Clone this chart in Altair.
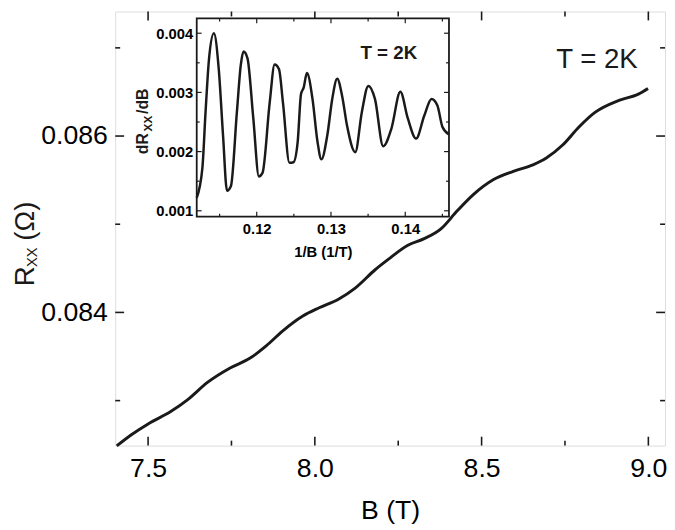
import altair as alt
import pandas as pd

# ---------------- data ----------------
# main curve: Rxx vs B
B_T = [7.406, 7.451, 7.500, 7.569, 7.618, 7.678, 7.746, 7.806, 7.855, 7.904,
       7.964, 8.013, 8.072, 8.121, 8.180, 8.220, 8.279, 8.328, 8.378, 8.427,
       8.476, 8.536, 8.595, 8.654, 8.693, 8.743, 8.792, 8.841, 8.910, 8.970, 8.999]
R_xx = [0.082487, 0.082616, 0.082736, 0.082878, 0.083008, 0.083206, 0.083370, 0.083482, 0.083623, 0.083791,
        0.083959, 0.084053, 0.084153, 0.084276, 0.084481, 0.084601, 0.084761, 0.084836, 0.084947, 0.085152,
        0.085339, 0.085507, 0.085600, 0.085674, 0.085748, 0.085898, 0.086103, 0.086271, 0.086402, 0.086475, 0.086539]

# inset: dRxx/dB vs 1/B
inv_B = [0.11192, 0.11268, 0.11311, 0.11357, 0.11423, 0.11489, 0.11546, 0.11600, 0.11653, 0.11733,
         0.11786, 0.11822, 0.11875, 0.11954, 0.12029, 0.12078, 0.12175, 0.12241, 0.12300, 0.12353,
         0.12441, 0.12494, 0.12552, 0.12596, 0.12632, 0.12676, 0.12751, 0.12818, 0.12871, 0.12951,
         0.13017, 0.13084, 0.13150, 0.13216, 0.13327, 0.13416, 0.13503, 0.13592, 0.13703, 0.13814,
         0.13934, 0.14035, 0.14146, 0.14257, 0.14354, 0.14433, 0.14500, 0.14589]
dR_dB = [0.00122, 0.00172, 0.00267, 0.00356, 0.00400, 0.00339, 0.00228, 0.00134, 0.00142, 0.00267,
         0.00347, 0.00369, 0.00358, 0.00256, 0.00158, 0.00164, 0.00283, 0.00347, 0.00339, 0.00283,
         0.00181, 0.00182, 0.00217, 0.00297, 0.00308, 0.00333, 0.00289, 0.00217, 0.00187, 0.00228,
         0.00289, 0.00323, 0.00294, 0.00244, 0.00199, 0.00267, 0.00311, 0.00289, 0.00209, 0.00239,
         0.00301, 0.00256, 0.00222, 0.00261, 0.00289, 0.00278, 0.00242, 0.00229]

main_x_domain = [7.4015, 9.05]
main_y_domain = [0.08249, 0.087412]
main_x_major = [7.5, 8.0, 8.5, 9.0]
main_x_minor = [7.75, 8.25, 8.75]
main_y_major = [0.084, 0.086]
main_y_minor = [0.083, 0.085, 0.087]

inset_x_domain = [0.11192, 0.14589]
inset_y_domain = [0.0009, 0.00425]
inset_x_major = [0.12, 0.13, 0.14]
inset_x_minor = [0.115, 0.125, 0.135, 0.145]
inset_y_major = [0.001, 0.002, 0.003, 0.004]
inset_y_minor = [0.0015, 0.0025, 0.0035]

# ---------------- layout ----------------
PAD_L = 108.7
W = 557.3
H = 440
IX0, IX1 = 82.6, 338.3     # inset frame in plot pixels
IY0, IY1 = 7, 208
INK = "#1a1a1a"
FONT = "Liberation Sans"
OX = PAD_L + 8             # page x of the plot's left edge


def xs_main():
    return alt.Scale(domain=main_x_domain, nice=False, zero=False)


def ys_main():
    return alt.Scale(domain=main_y_domain, nice=False, zero=False)


def xs_in():
    return alt.Scale(domain=inset_x_domain, range=[IX0, IX1], nice=False, zero=False)


def ys_in():
    return alt.Scale(domain=inset_y_domain, range=[IY1, IY0], nice=False, zero=False)


def xticks(vals, scale, y_edge, y_end, width=1.6):
    return alt.Chart(pd.DataFrame({"v": vals})).mark_rule(color=INK, strokeWidth=width).encode(
        x=alt.X("v:Q", scale=scale, axis=None),
        y=alt.value(y_edge), y2=alt.value(y_end))


def yticks(vals, scale, x_edge, x_end, width=1.6):
    return alt.Chart(pd.DataFrame({"v": vals})).mark_rule(color=INK, strokeWidth=width).encode(
        y=alt.Y("v:Q", scale=scale, axis=None),
        x=alt.value(x_edge), x2=alt.value(x_end))


def label(text, x, y, size, bold=False, angle=0):
    return alt.Chart(pd.DataFrame({"t": [text]})).mark_text(
        text=text, fontSize=size, fontWeight="bold" if bold else "normal",
        angle=angle, align="center", baseline="alphabetic", color=INK, font=FONT
    ).encode(x=alt.value(x), y=alt.value(y))


main_df = pd.DataFrame({"B": B_T, "R": R_xx})
main_line = alt.Chart(main_df).mark_line(color=INK, strokeWidth=3, interpolate="monotone").encode(
    x=alt.X("B:Q", scale=xs_main(),
            axis=alt.Axis(orient="bottom", values=main_x_major, format=".1f", ticks=False,
                          domain=False, grid=False, labelFontSize=27, labelPadding=10,
                          title="B (T)", titleFontSize=27, titleFontWeight="normal",
                          titleBaseline="alphabetic", titleY=74)),
    y=alt.Y("R:Q", scale=ys_main(),
            axis=alt.Axis(orient="left", values=main_y_major, format=".3f", ticks=False,
                          domain=False, grid=False, labelFontSize=27, labelPadding=8, title=None)),
)

inset_df = pd.DataFrame({"invB": inv_B, "dRdB": dR_dB})
inset_frame = alt.Chart(pd.DataFrame({"t": [0]})).mark_rect(
    fill="white", stroke=INK, strokeWidth=1.8).encode(
    x=alt.value(IX0), x2=alt.value(IX1), y=alt.value(IY0), y2=alt.value(IY1))

inset_line = alt.Chart(inset_df).mark_line(color=INK, strokeWidth=2.5, interpolate="monotone").encode(
    x=alt.X("invB:Q", scale=xs_in(),
            axis=alt.Axis(orient="bottom", offset=-(H - IY1), values=inset_x_major, format=".2f",
                          ticks=False, domain=False, grid=False,
                          labelFontSize=15, labelFontWeight="bold", labelPadding=5,
                          title="1/B (1/T)", titleFontSize=15, titleFontWeight="bold",
                          titleBaseline="alphabetic", titleY=40)),
    y=alt.Y("dRdB:Q", scale=ys_in(),
            axis=alt.Axis(orient="left", offset=-IX0, values=inset_y_major, format=".3f",
                          ticks=False, domain=False, grid=False,
                          labelFontSize=15, labelFontWeight="bold", labelPadding=4, title=None)),
)

MJ, MN = 9, 5
IJ, IN = 5, 3
layers = [
    main_line,
    xticks(main_x_major, xs_main(), H, H - MJ),
    xticks(main_x_minor, xs_main(), H, H - MN),
    xticks(main_x_major, xs_main(), 0, MJ),
    xticks(main_x_minor, xs_main(), 0, MN),
    yticks(main_y_major, ys_main(), 0, MJ),
    yticks(main_y_minor, ys_main(), 0, MN),
    yticks(main_y_major, ys_main(), W, W - MJ),
    yticks(main_y_minor, ys_main(), W, W - MN),
    label("R", 34 - OX, 268.5, 28, angle=270),
    label("XX", 37 - OX, 249, 15, angle=270),
    label("(\u03a9)", 34 - OX, 212.5, 28, angle=270),
    label("T = 2K", 605 - OX, 57, 28),
    inset_frame,
    inset_line,
    xticks(inset_x_major, xs_in(), IY1, IY1 - IJ, 1.2),
    xticks(inset_x_minor, xs_in(), IY1, IY1 - IN, 1.2),
    xticks(inset_x_major, xs_in(), IY0, IY0 + IJ, 1.2),
    xticks(inset_x_minor, xs_in(), IY0, IY0 + IN, 1.2),
    yticks(inset_y_major, ys_in(), IX0, IX0 + IJ, 1.2),
    yticks(inset_y_minor, ys_in(), IX0, IX0 + IN, 1.2),
    yticks(inset_y_major, ys_in(), IX1, IX1 - IJ, 1.2),
    yticks(inset_y_minor, ys_in(), IX1, IX1 - IN, 1.2),
    label("dR", 150 - OX, 134, 16, bold=True, angle=270),
    label("XX", 154 - OX, 113.5, 12, bold=True, angle=270),
    label("/dB", 150 - OX, 91, 16, bold=True, angle=270),
    label("T = 2K", 394 - OX, 48, 19, bold=True),
]

chart = alt.layer(*layers).resolve_scale(
    x="independent", y="independent"
).properties(
    width=W, height=H,
    padding={"left": PAD_L, "top": 0, "right": 2, "bottom": 82},
    autosize=alt.AutoSizeParams(type="none"),
).configure_view(
    stroke=INK, strokeWidth=2
).configure_axis(
    labelColor=INK, titleColor=INK, labelFont=FONT, titleFont=FONT, grid=False
).configure(
    background="white"
)

chart.save("out.html", embed_options={"renderer": "svg", "actions": False})
